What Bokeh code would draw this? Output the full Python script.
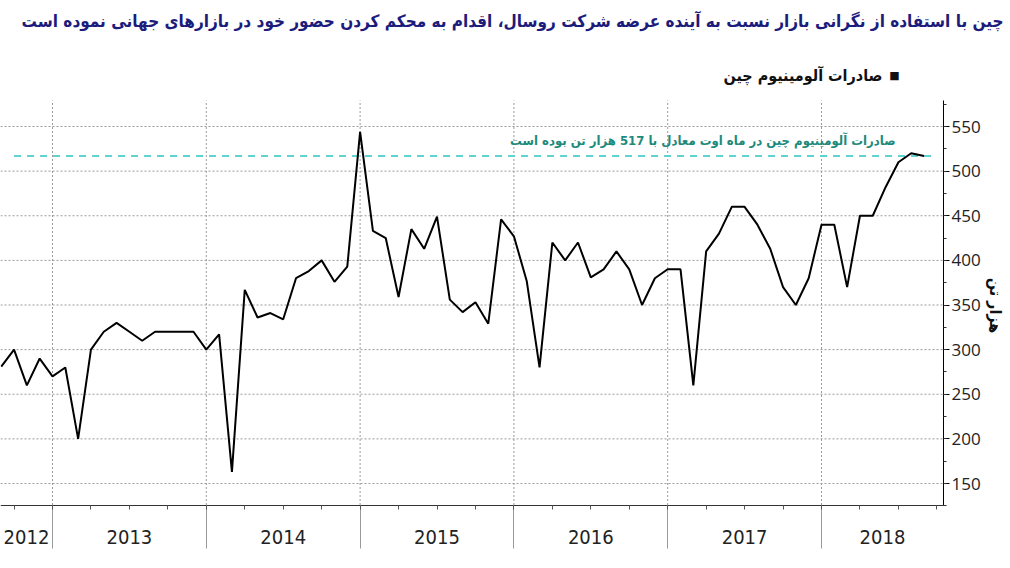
import math
from bokeh.plotting import figure
from bokeh.models import Range1d, FixedTicker, Label, LinearAxis
from bokeh.embed import file_html
from bokeh.resources import INLINE

# ---------------- data (thousand tonnes, monthly, month-end) ----------------
start_year = 2012
start_month = 8  # August 2012
values = [
    281, 300, 260, 290, 270,                                  # 2012 Aug-Dec
    280, 200, 300, 320, 330, 320, 310, 320, 320, 320, 320, 300,  # 2013
    317, 163, 367, 336, 341, 334, 380, 388, 400, 376, 393, 544,  # 2014
    433, 425, 359, 435, 413, 449, 356, 342, 353, 329, 446, 427,  # 2015
    377, 280, 420, 400, 420, 381, 390, 410, 390, 350, 380, 390,  # 2016
    390, 260, 410, 430, 460, 460, 440, 413, 370, 350, 380, 440,  # 2017
    440, 370, 450, 450, 482, 510, 520, 517,                      # 2018 Jan-Aug
]
years = [2012, 2013, 2014, 2015, 2016, 2017, 2018]
year_labels = ["2012", "2013", "2014", "2015", "2016", "2017", "2018"]
y_ticks = [150, 200, 250, 300, 350, 400, 450, 500, 550]
aug_value = 517

title_text = "چین با استفاده از نگرانی بازار نسبت به آینده عرضه شرکت روسال، اقدام به محکم کردن حضور خود در بازارهای جهانی نموده است"
legend_text = "صادرات آلومینیوم چین"
note_text = "صادرات آلومینیوم چین در ماه اوت معادل با 517 هزار تن بوده است"
unit_text = "هزار تن"

# month-end positions: year + month/12
xs = [start_year + (start_month + i) / 12.0 for i in range(len(values))]

# ---------------- layout (canvas = frame, axes placed at fixed locations) ----------------
W, H = 1010, 568
PX_PER_YEAR = 153.8
X_LEFT = 2013 - 52 / PX_PER_YEAR
X_RIGHT = X_LEFT + W / PX_PER_YEAR
PX_PER_UNIT = 0.8925
Y_TOP = 550 + 126 / PX_PER_UNIT
Y_BOTTOM = Y_TOP - H / PX_PER_UNIT


def px_x(px):
    return X_LEFT + px / PX_PER_YEAR


def px_y(py):
    return Y_TOP - py / PX_PER_UNIT


X_AXIS = px_x(943)      # position of the right value axis
Y_AXIS = px_y(504.5)    # position of the time axis
Y_FRAME_TOP = px_y(100)

p = figure(width=W, height=H, output_backend="svg", toolbar_location=None,
           x_range=Range1d(X_LEFT, X_RIGHT), y_range=Range1d(Y_BOTTOM, Y_TOP),
           y_axis_location="right", title=None,
           min_border_left=0, min_border_top=0, min_border_bottom=0, min_border_right=0)
p.outline_line_color = None
p.background_fill_color = "white"
p.border_fill_color = "white"
p.grid.visible = False

# time axis: year separators (long ticks) + quarterly minor ticks
year_bounds = years[1:]
quarters = [y + q / 4.0 for y in years for q in range(4) if X_LEFT < y + q / 4.0 < X_AXIS]
xa = p.xaxis[0]
xa.fixed_location = Y_AXIS
xa.bounds = (X_LEFT, X_AXIS)
xa.ticker = FixedTicker(ticks=year_bounds, minor_ticks=quarters)
xa.axis_line_color = "#333333"
xa.axis_line_width = 1
xa.major_tick_out = 43
xa.major_tick_in = 0
xa.major_tick_line_color = "#9a9a9a"
xa.minor_tick_out = 4
xa.minor_tick_in = 0
xa.minor_tick_line_color = "#555555"
xa.major_label_overrides = {y: "" for y in year_bounds}

# year labels axis (same location, labels centred in each year)
centers = [(X_LEFT + 2013) / 2] + [y + 0.5 for y in years[1:-1]] + [(2018 + X_AXIS) / 2]
la = LinearAxis(fixed_location=Y_AXIS, ticker=FixedTicker(ticks=centers, minor_ticks=[]),
                major_label_overrides={c: t for c, t in zip(centers, year_labels)},
                axis_line_color=None, major_tick_line_color=None, minor_tick_line_color=None,
                major_tick_out=0, major_tick_in=0, minor_tick_out=0, minor_tick_in=0,
                major_label_standoff=25,
                major_label_text_font="Liberation Sans Narrow, DejaVu Sans Condensed, sans-serif",
                major_label_text_font_size="20px", major_label_text_color="#222222")
p.add_layout(la, "below")

# value axis on the right
ya = p.yaxis[0]
ya.fixed_location = X_AXIS
ya.bounds = (Y_AXIS, Y_FRAME_TOP)
ya.ticker = FixedTicker(ticks=y_ticks, minor_ticks=[v for v in range(125, 580, 25)])
ya.axis_line_color = "black"
ya.major_tick_out = 6
ya.major_tick_in = 0
ya.minor_tick_out = 3
ya.minor_tick_in = 0
ya.major_tick_line_color = "black"
ya.minor_tick_line_color = "#333333"
ya.major_label_standoff = 2
ya.major_label_text_font = "Open Sans"
ya.major_label_text_font_size = "17px"
ya.major_label_text_color = "#222222"

# dotted grid lines, limited to the plotting area
p.segment(x0=X_LEFT, x1=X_AXIS, y0=y_ticks, y1=y_ticks,
          line_color="#9a9a9a", line_dash="2 2", line_width=1)
p.segment(x0=year_bounds, x1=year_bounds, y0=Y_AXIS, y1=Y_FRAME_TOP,
          line_color="#9a9a9a", line_dash="2 2", line_width=1)

# reference line at the August value
p.segment(x0=xs[1], x1=X_AXIS - 0.05, y0=aug_value, y1=aug_value,
          line_color="#5fd3cf", line_width=2, line_dash="7 6")

# main series
p.line(xs, values, line_color="black", line_width=2)

# texts
FA = "DejaVu Sans Condensed"
p.add_layout(Label(x=px_x(1003), y=px_y(20), text=title_text,
                   text_align="right", text_baseline="middle", text_font=FA,
                   text_font_size="17px", text_font_style="bold", text_color="#1c1c7c"))
p.add_layout(Label(x=px_x(882), y=px_y(75), text=legend_text,
                   text_align="right", text_baseline="middle", text_font=FA,
                   text_font_size="16px", text_font_style="bold", text_color="#111111"))
p.add_layout(Label(x=px_x(894), y=px_y(75), text="■",
                   text_align="center", text_baseline="middle", text_font="DejaVu Sans",
                   text_font_size="11px", text_color="#111111"))
p.add_layout(Label(x=px_x(895), y=px_y(140), text=note_text,
                   text_align="right", text_baseline="middle", text_font=FA,
                   text_font_size="13px", text_font_style="bold", text_color="#1e8a7c"))
p.add_layout(Label(x=px_x(995), y=px_y(305), text=unit_text,
                   angle=-math.pi / 2, text_align="center", text_baseline="middle",
                   text_font=FA, text_font_size="16px", text_font_style="bold",
                   text_color="#111111"))

open("out.html", "w").write(file_html(p, INLINE))
